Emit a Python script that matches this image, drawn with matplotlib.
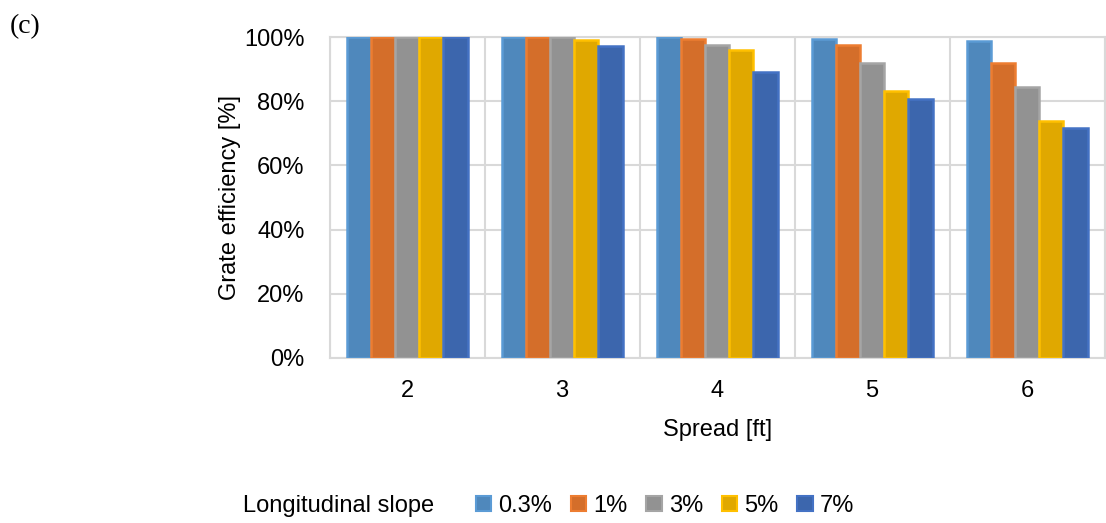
import numpy as np
import matplotlib.pyplot as plt
from matplotlib.patches import Patch
from matplotlib.ticker import PercentFormatter

plt.rcParams['font.family'] = ['Liberation Sans Narrow', 'Liberation Sans', 'DejaVu Sans']

spreads = ['2', '3', '4', '5', '6']
slopes = ['0.3%', '1%', '3%', '5%', '7%']
eff_03 = [100, 100, 100, 99.4, 98.9]
eff_1 = [100, 100, 99.4, 97.7, 91.9]
eff_3 = [100, 100, 97.7, 91.8, 84.6]
eff_5 = [100, 99.2, 96.0, 83.2, 73.8]
eff_7 = [100, 97.2, 89.0, 80.7, 71.6]
series = [eff_03, eff_1, eff_3, eff_5, eff_7]

fills = ['#4F88BC', '#D46E2A', '#929292', '#E0A800', '#3C66AD']
edges = ['#5B9BD5', '#ED7D31', '#A5A5A5', '#FFC000', '#4472C4']

fig = plt.figure(figsize=(11.06, 5.23), dpi=100)
ax = fig.add_axes([0.298, 0.3155, 0.7007, 0.6135])

x = np.arange(len(spreads))
w = 0.156
for i, vals in enumerate(series):
    ax.bar(x + (i - 2) * w, vals, w, color=fills[i], edgecolor=edges[i],
           linewidth=1.8, zorder=3)

ax.set_xlim(-0.5, len(spreads) - 0.5)
ax.set_ylim(0, 100)
ax.set_yticks(np.arange(0, 101, 20))
ax.yaxis.set_major_formatter(PercentFormatter(decimals=0))
ax.set_xticks(x)
ax.set_xticklabels(spreads)
ax.set_xticks(np.arange(-0.5, len(spreads)), minor=True)
ax.tick_params(axis='both', which='both', length=0, labelsize=17)
ax.tick_params(axis='x', pad=16)
ax.tick_params(axis='y', pad=18)
ax.grid(axis='y', which='major', color='#D9D9D9', linewidth=1.5, zorder=0)
ax.grid(axis='x', which='minor', color='#D9D9D9', linewidth=1.5, zorder=0)
for s in ax.spines.values():
    s.set_color('#D9D9D9')
    s.set_linewidth(1.5)

ax.set_ylabel('Grate efficiency [%]', fontsize=17, labelpad=2)
ax.set_xlabel('Spread [ft]', fontsize=17, labelpad=12)

handles = [Patch(facecolor=fills[i], edgecolor=edges[i], linewidth=1.5, label=slopes[i])
           for i in range(len(slopes))]
fig.legend(handles=handles, loc='center left', bbox_to_anchor=(0.43, 0.033), ncol=5,
           frameon=False, fontsize=17, handlelength=0.65, handleheight=0.65,
           handletextpad=0.3, columnspacing=0.8, borderaxespad=0, borderpad=0)
fig.text(0.22, 0.033, 'Longitudinal slope', fontsize=17, ha='left', va='center')

fig.text(0.009, 0.95, '(c)', fontsize=20, family='Liberation Serif', ha='left', va='center')

fig.savefig('out.png', dpi=100)
